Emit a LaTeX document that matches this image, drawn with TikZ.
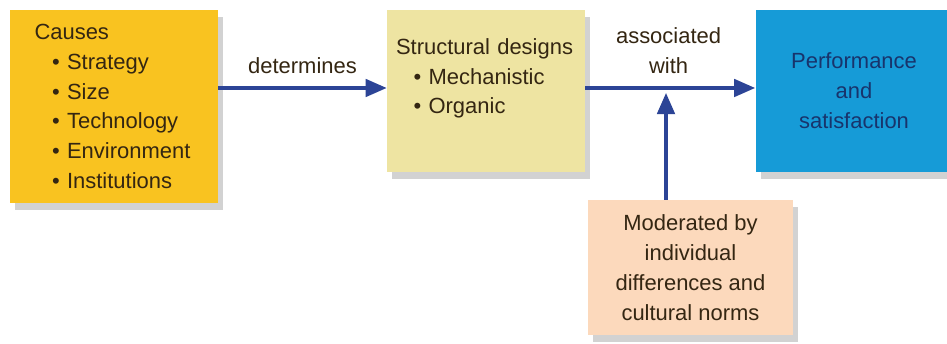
\documentclass[tikz,border=0pt]{standalone}
\usepackage{fontspec}
\setmainfont{Liberation Sans}
\usepackage{xcolor}
\usepackage{tikz}
\usetikzlibrary{arrows.meta,shadows,calc}
\definecolor{causeYellow}{RGB}{249,195,32}
\definecolor{designKhaki}{RGB}{238,228,162}
\definecolor{perfBlue}{RGB}{22,155,215}
\definecolor{modPeach}{RGB}{252,217,188}
\definecolor{arrowBlue}{RGB}{44,68,150}
\definecolor{textBrown}{RGB}{52,38,18}
\definecolor{textNavy}{RGB}{24,52,108}
\tikzset{
  boxbase/.style={inner sep=0pt, font=\fontsize{12.5}{17}\selectfont, text=textBrown,
    drop shadow={shadow xshift=3pt, shadow yshift=-4pt, opacity=0.35}},
  flowarrow/.style={-{Triangle[length=12pt,width=10pt]}, line width=1.8pt, arrowBlue},
  flowlabel/.style={font=\fontsize{12.5}{17}\selectfont, text=textBrown, align=center}
}
\newcommand{\bulletitem}[1]{\hspace*{10pt}\textbullet\ #1}

\begin{document}
\begin{tikzpicture}
    \useasboundingbox (0,0) rectangle (18.94,-6.88);
    \fill[white] (0,0) rectangle (18.94,-6.88);

    % Causes box (left)
    \node[boxbase, fill=causeYellow, minimum width=4.16cm, minimum height=3.86cm,
          text width=3.18cm, align=left] (causes) at (2.28,-2.13)
        {Causes\\ \bulletitem{Strategy}\\ \bulletitem{Size}\\ \bulletitem{Technology}\\
         \bulletitem{Environment}\\ \bulletitem{Institutions}};

    % Structural designs box
    \node[boxbase, fill=designKhaki, minimum width=3.96cm, minimum height=3.24cm,
          text width=3.6cm, align=left] (designs) at (9.72,-1.82)
        {Structural designs\\ \bulletitem{Mechanistic}\\ \bulletitem{Organic}\\ \mbox{}};

    % Outcome box (right)
    \node[boxbase, fill=perfBlue, text=textNavy, minimum width=3.94cm, minimum height=3.24cm,
          align=center] (outcome) at (17.08,-1.82)
        {Performance\\ and\\ satisfaction};

    % Moderator box (bottom)
    \node[boxbase, fill=modPeach, minimum width=4.1cm, minimum height=2.7cm,
          align=center] (moderator) at (13.81,-5.35)
        {Moderated by\\ individual\\ differences and\\ cultural norms};

    % Main flow
    \coordinate (flowline) at (0,-1.76);
    \draw[flowarrow] (causes.east |- flowline) -- (designs.west |- flowline)
        node[flowlabel, midway, above=4pt] {determines};
    \draw[flowarrow] (designs.east |- flowline) -- (outcome.west |- flowline)
        node[flowlabel, pos=0.49, above=4pt] {associated\\ with};

    % Moderating effect
    \coordinate (join) at (13.32,-1.86);
    \draw[flowarrow] (moderator.north -| join) -- (join);
\end{tikzpicture}
\end{document}
